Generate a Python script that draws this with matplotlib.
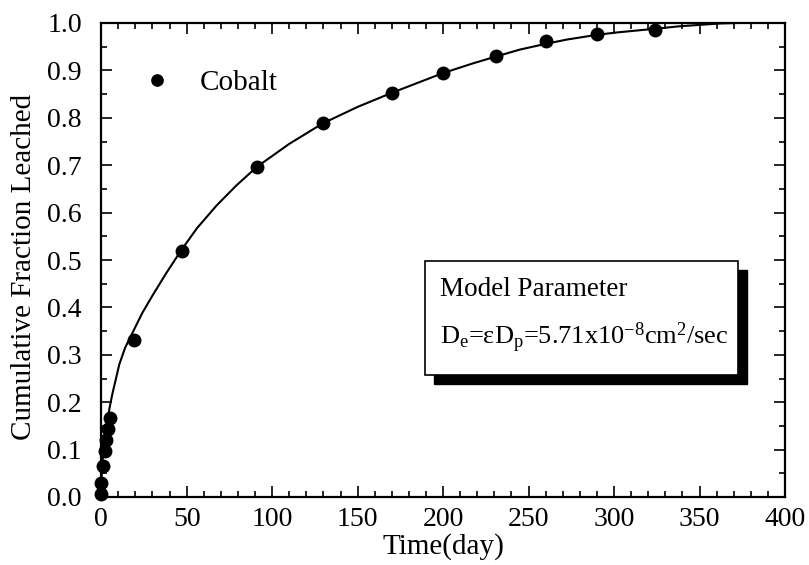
import matplotlib
matplotlib.use("Agg")
import matplotlib.pyplot as plt
from matplotlib.patches import Rectangle
from matplotlib.ticker import MultipleLocator

plt.rcParams['font.family'] = ['Liberation Serif', 'DejaVu Serif']
plt.rcParams['mathtext.fontset'] = 'custom'
plt.rcParams['mathtext.rm'] = 'Liberation Serif'
plt.rcParams['mathtext.it'] = 'Liberation Serif:italic'

# measured data (Cobalt)
time_days = [0.05, 0.1, 1, 2, 3, 4, 5, 19, 47, 91, 130, 170, 200, 231, 260, 290, 324]
fraction = [0.006, 0.029, 0.065, 0.098, 0.120, 0.144, 0.166, 0.331, 0.520, 0.696,
            0.788, 0.852, 0.894, 0.931, 0.962, 0.977, 0.985]

# model curve
model_days = [0, 0.1, 0.3, 0.6, 1, 2, 3, 4, 5, 6.5, 8, 10.6, 14, 18.8, 24, 30, 38, 46.7,
              56, 67.5, 79, 90.9, 110, 129.5, 150, 169.5, 199.7, 217.6, 230.7, 245,
              260, 272.3, 289.8, 301.5, 324.4, 338, 350, 362, 372]
model_frac = [0, 0.027, 0.047, 0.066, 0.085, 0.12, 0.147, 0.17, 0.19, 0.217, 0.24,
              0.28, 0.315, 0.35, 0.388, 0.425, 0.472, 0.52, 0.567, 0.615, 0.657,
              0.696, 0.745, 0.788, 0.823, 0.852, 0.894, 0.915, 0.929, 0.944,
              0.956, 0.965, 0.975, 0.980, 0.988, 0.993, 0.996, 0.999, 1.0]

x_ticks = [0, 50, 100, 150, 200, 250, 300, 350, 400]
y_ticks = [0.0, 0.1, 0.2, 0.3, 0.4, 0.5, 0.6, 0.7, 0.8, 0.9, 1.0]

fig = plt.figure(figsize=(8.09, 5.65), dpi=100)
ax = fig.add_axes([101.2/809, 1-497/565, (785-101.2)/809, (497-23)/565])

ax.plot(model_days, model_frac, color='black', lw=1.5, zorder=2, clip_on=True)
ax.plot(time_days, fraction, 'o', color='black', ms=9, label='Cobalt', zorder=3, clip_on=False)

ax.set_xlim(0, 400)
ax.set_ylim(0, 1.0)
ax.set_xticks(x_ticks)
ax.set_yticks(y_ticks)
ax.set_xticklabels([str(v) for v in x_ticks])
ax.set_yticklabels([f"{v:.1f}" for v in y_ticks])
ax.xaxis.set_minor_locator(MultipleLocator(10))
ax.yaxis.set_minor_locator(MultipleLocator(0.05))
ax.tick_params(which='both', direction='in', top=True, right=True, width=1.2, labelsize=20)
ax.tick_params(which='major', length=8)
ax.tick_params(which='minor', length=4.5)
ax.tick_params(axis='x', pad=7)
ax.tick_params(axis='y', pad=14)
for s in ax.spines.values():
    s.set_linewidth(1.6)

ax.set_xlabel('Time(day)', fontsize=21, labelpad=1)
ax.set_ylabel('Cumulative Fraction Leached', fontsize=21)
ax.yaxis.set_label_coords((37-101.2)/683.8, (497-267)/474)

leg = ax.legend(loc='upper left', bbox_to_anchor=(0.018, 0.957), frameon=False,
                fontsize=21, handletextpad=0.86, handlelength=1.2, markerscale=0.9)

# annotation box with shadow
bx0, by0 = (425-101.2)/683.8, (497-375)/474
bw, bh = (738-425)/683.8, (375-261)/474
ox, oy = 9/683.8, 9/474
ax.add_patch(Rectangle((bx0+ox, by0-oy), bw, bh, transform=ax.transAxes,
                       facecolor='black', edgecolor='black', lw=1, zorder=4))
ax.add_patch(Rectangle((bx0, by0), bw, bh, transform=ax.transAxes,
                       facecolor='white', edgecolor='black', lw=1.2, zorder=5))
ax.text((440-101.2)/683.8, (497-290)/474, 'Model Parameter', transform=ax.transAxes,
        fontsize=19.5, va='center', ha='left', zorder=6)
ax.text((440-101.2)/683.8, (497-338)/474,
        r'D$_{\mathrm{e}}$=εD$_{\mathrm{p}}$=5.71x10$^{\mathrm{-8}}$cm$^{\mathrm{2}}$/sec',
        transform=ax.transAxes, fontsize=19, va='center', ha='left', zorder=6)

fig.savefig('out.png', dpi=100)
